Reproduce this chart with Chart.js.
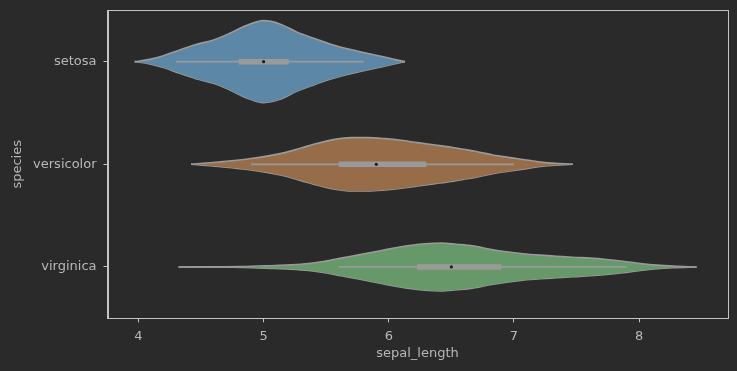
<!DOCTYPE html>
<html>
<head>
<meta charset="utf-8">
<script src="https://cdn.jsdelivr.net/npm/chart.js@4/dist/chart.umd.min.js"></script>
<style>
  html, body { margin: 0; padding: 0; background: #2a2a2a; }
  #wrap { width: 737px; height: 371px; }
</style>
</head>
<body>
<div id="wrap"><canvas id="violin"></canvas></div>
<script>
// ---- data ----
const species = ['setosa', 'versicolor', 'virginica'];
const xTicks = [4, 5, 6, 7, 8];

// violin outlines: sepal_length positions and half widths (in category units)
const setosaX = [3.97, 4.09, 4.20, 4.33, 4.46, 4.60, 4.73, 4.86, 5.0, 5.13, 5.26, 5.40, 5.53, 5.66, 5.79, 5.93, 6.06, 6.13];
const setosaHalf = [0, 0.022, 0.058, 0.114, 0.166, 0.211, 0.276, 0.351, 0.399, 0.367, 0.292, 0.227, 0.172, 0.127, 0.091, 0.055, 0.017, 0];

const versicolorX = [4.42, 4.64, 4.90, 5.17, 5.30, 5.44, 5.57, 5.70, 5.83, 5.97, 6.10, 6.23, 6.37, 6.50, 6.60, 6.70, 6.83, 6.97, 7.10, 7.23, 7.37, 7.47];
const versicolorHalf = [0, 0.022, 0.056, 0.114, 0.159, 0.207, 0.243, 0.26, 0.26, 0.25, 0.234, 0.211, 0.188, 0.166, 0.146, 0.125, 0.091, 0.065, 0.042, 0.019, 0.007, 0];

const virginicaX = [4.32, 4.82, 5.09, 5.22, 5.36, 5.49, 5.62, 5.75, 5.89, 6.02, 6.15, 6.29, 6.42, 6.54, 6.67, 6.81, 6.94, 7.07, 7.21, 7.34, 7.47, 7.61, 7.74, 7.87, 8.01, 8.14, 8.27, 8.46];
const virginicaHalf = [0, 0.004, 0.015, 0.021, 0.034, 0.056, 0.086, 0.115, 0.148, 0.18, 0.206, 0.226, 0.234, 0.222, 0.206, 0.173, 0.148, 0.129, 0.115, 0.105, 0.095, 0.086, 0.073, 0.056, 0.034, 0.018, 0.008, 0];

// inner box stats
const whiskLo = [4.3, 4.9, 5.6];
const q1 = [4.8, 5.6, 6.225];
const medians = [5.0, 5.9, 6.5];
const q3 = [5.2, 6.3, 6.9];
const whiskHi = [5.8, 7.0, 7.9];

const fillColors = ['#5c87a6', '#976c48', '#669869'];
const edgeColor = '#9a9a9a';
const textColor = '#b8b8b8';
const spineColor = '#c4c4c4';

// ---- build datasets ----
const violinX = [setosaX, versicolorX, virginicaX];
const violinHalf = [setosaHalf, versicolorHalf, virginicaHalf];

let datasets = [];

species.forEach(function (name, i) {
    const xs = violinX[i];
    const hw = violinHalf[i];
    const top = xs.map(function (x, k) { return { x: x, y: i - hw[k] }; });
    const bottom = xs.map(function (x, k) { return { x: x, y: i + hw[k] }; });
    datasets.push({
        label: name + ' top',
        data: top,
        borderColor: edgeColor,
        borderWidth: 1.6,
        backgroundColor: fillColors[i],
        fill: '+1',
        pointRadius: 0,
        cubicInterpolationMode: 'monotone',
        order: 3
    });
    datasets.push({
        label: name + ' bottom',
        data: bottom,
        borderColor: edgeColor,
        borderWidth: 1.6,
        fill: false,
        pointRadius: 0,
        cubicInterpolationMode: 'monotone',
        order: 3
    });
    // whisker
    datasets.push({
        data: [{ x: whiskLo[i], y: i }, { x: whiskHi[i], y: i }],
        borderColor: edgeColor,
        borderWidth: 1.8,
        pointRadius: 0,
        fill: false,
        order: 2
    });
    // box
    datasets.push({
        data: [{ x: q1[i], y: i }, { x: q3[i], y: i }],
        borderColor: edgeColor,
        borderWidth: 5.5,
        borderCapStyle: 'butt',
        pointRadius: 0,
        fill: false,
        order: 1
    });
    // median dot
    datasets.push({
        data: [{ x: medians[i], y: i }],
        showLine: false,
        pointRadius: 1.6,
        pointBackgroundColor: '#1e1e1e',
        pointBorderWidth: 0,
        order: 0
    });
});

// frame round the plot area (matplotlib spines)
const framePlugin = {
    id: 'frame',
    afterDraw: function (chart) {
        const a = chart.chartArea;
        const ctx = chart.ctx;
        ctx.save();
        ctx.strokeStyle = spineColor;
        ctx.lineWidth = 1;
        ctx.strokeRect(Math.round(a.left) + 0.5, Math.round(a.top) + 0.5,
            Math.round(a.right - a.left), Math.round(a.bottom - a.top));
        ctx.restore();
    }
};

const font = { family: 'DejaVu Sans', size: 13 };

new Chart(document.getElementById('violin'), {
    type: 'line',
    data: { datasets: datasets },
    options: {
        responsive: true,
        maintainAspectRatio: false,
        animation: false,
        layout: { padding: { left: 0, right: 9.5, top: 10.3, bottom: 0 } },
        plugins: {
            legend: { display: false },
            tooltip: { enabled: false }
        },
        scales: {
            x: {
                type: 'linear',
                min: 3.753,
                max: 8.706,
                afterBuildTicks: function (scale) {
                    scale.ticks = xTicks.map(function (v) { return { value: v }; });
                },
                afterFit: function (scale) {
                    scale.height = 52.7;
                    scale.paddingLeft = 0;
                    scale.paddingRight = 0;
                },
                grid: {
                    drawOnChartArea: false,
                    drawTicks: true,
                    tickLength: 4,
                    tickColor: spineColor,
                    color: spineColor
                },
                border: { color: spineColor },
                ticks: { color: textColor, font: font, padding: 7, maxRotation: 0 },
                title: { display: true, text: 'sepal_length', color: textColor, font: font, padding: { top: 0, bottom: 10 } }
            },
            y: {
                type: 'linear',
                reverse: true,
                min: -0.5,
                max: 2.5,
                afterBuildTicks: function (scale) {
                    scale.ticks = species.map(function (s, i) { return { value: i }; });
                },
                afterFit: function (scale) {
                    scale.width = 107.5;
                    scale.paddingTop = 0;
                    scale.paddingBottom = 0;
                },
                grid: {
                    drawOnChartArea: false,
                    drawTicks: true,
                    tickLength: 4,
                    tickColor: spineColor,
                    color: spineColor
                },
                border: { color: spineColor },
                ticks: {
                    color: textColor,
                    font: font,
                    padding: 7,
                    callback: function (value) { return species[value]; }
                },
                title: { display: true, text: 'species', color: textColor, font: font, padding: { top: 10, bottom: 0 } }
            }
        }
    },
    plugins: [framePlugin]
});
</script>
</body>
</html>
